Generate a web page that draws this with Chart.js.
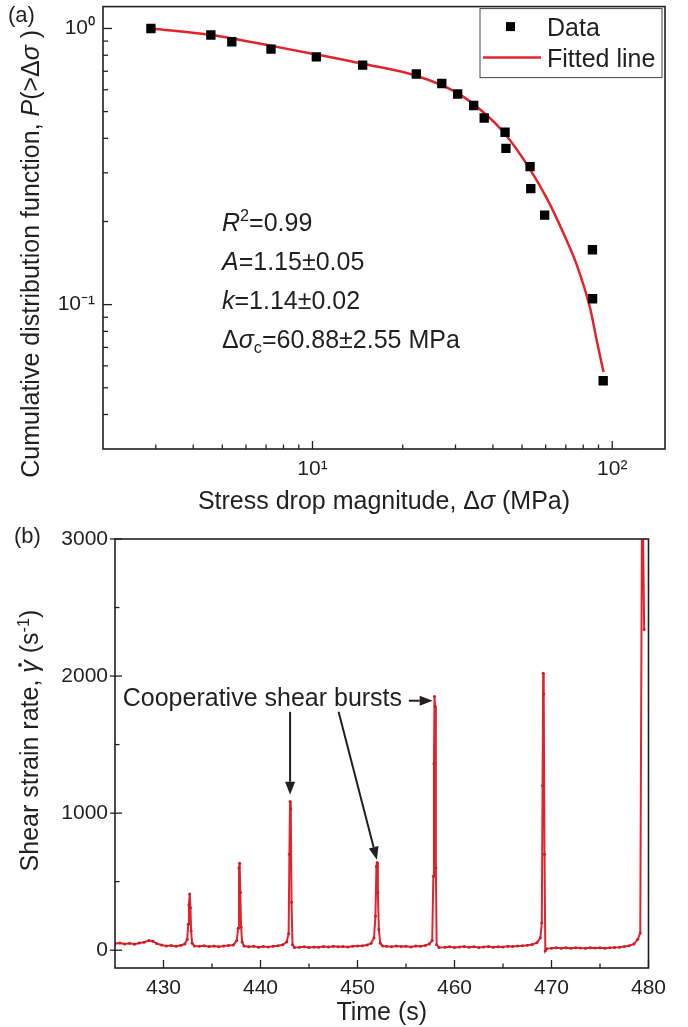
<!DOCTYPE html>
<html>
<head>
<meta charset="utf-8">
<script src="https://cdn.jsdelivr.net/npm/chart.js@4.4.1/dist/chart.umd.min.js"></script>
<style>
  body { margin: 0; background: #fff; width: 688px; height: 1027px; overflow: hidden; position: relative; }
  canvas { position: absolute; left: 0; }
  #chartA { top: 0; }
  #chartB { top: 515px; }
</style>
</head>
<body>
<canvas id="chartA" width="688" height="515"></canvas>
<canvas id="chartB" width="688" height="512"></canvas>
<script>
// (a) cumulative distribution of stress drops
const stressDrop = [2.89, 4.58, 5.38, 7.27, 10.3, 14.7, 22.2, 27.0, 30.5, 34.5, 37.4, 43.9, 44.2, 53.2, 53.5, 59.5, 85.9, 86.0, 93.3];
const cdfValues  = [1.0, 0.947, 0.895, 0.842, 0.789, 0.737, 0.684, 0.632, 0.579, 0.526, 0.474, 0.421, 0.368, 0.316, 0.263, 0.211, 0.158, 0.105, 0.053];
const fitStress  = [2.9, 4.6, 7.3, 10.3, 14.7, 22.2, 30.5, 37.4, 43.9, 53.2, 60.7, 68.5, 76.2, 84.4, 88.9, 93.5];
const fitCdf     = [1.0, 0.947, 0.865, 0.805, 0.745, 0.674, 0.583, 0.494, 0.415, 0.309, 0.241, 0.183, 0.139, 0.097, 0.0736, 0.057];

const xTicksA = [3, 4, 5, 6, 7, 8, 9, 10, 20, 30, 40, 50, 60, 70, 80, 90, 100];
const xLabelValuesA = [10, 100];
const xLabelTextsA = ['10¹', '10²'];
const yTicksA = [0.04, 0.05, 0.06, 0.07, 0.08, 0.09, 0.1, 0.2, 0.3, 0.4, 0.5, 0.6, 0.7, 0.8, 0.9, 1];
const yLabelValuesA = [0.1, 1];
const yLabelTextsA = ['10⁻¹', '10⁰'];

// (b) shear strain rate vs time
const timeS = [
  425.0, 425.5, 426.0, 426.5, 427.0, 427.5, 428.0, 428.5, 428.9, 429.3, 429.8, 430.3, 430.8, 431.3, 431.8, 432.2, 432.45,
  432.55, 432.62, 432.7, 432.78, 432.85, 432.95, 433.2,
  433.7, 434.2, 434.7, 435.2, 435.7, 436.2, 436.7, 437.2, 437.55,
  437.7, 437.78, 437.85, 437.92, 438.0, 438.1, 438.3,
  438.8, 439.3, 439.8, 440.3, 440.8, 441.3, 441.8, 442.3, 442.7, 442.9,
  442.98, 443.05, 443.12, 443.2, 443.3, 443.5,
  444.0, 444.5, 445.0, 445.5, 446.0, 446.5, 447.0, 447.5, 448.0, 448.5, 449.0, 449.5, 450.0, 450.5, 451.0, 451.4, 451.7,
  451.85, 451.95, 452.02, 452.1, 452.2, 452.35, 452.6,
  453.0, 453.5, 454.0, 454.5, 455.0, 455.5, 456.0, 456.5, 457.0, 457.4, 457.7,
  457.82, 457.88, 457.94, 458.0, 458.08, 458.16, 458.4,
  459.0, 459.5, 460.0, 460.5, 461.0, 461.5, 462.0, 462.5, 463.0, 463.5, 464.0, 464.5, 465.0, 465.5, 466.0, 466.5, 467.0, 467.5, 468.0, 468.5, 468.85,
  469.0, 469.08, 469.14, 469.2, 469.28, 469.36, 469.5,
  470.0, 470.5, 471.0, 471.5, 472.0, 472.5, 473.0, 473.5, 474.0, 474.5, 475.0, 475.5, 476.0, 476.5, 477.0, 477.5, 478.0, 478.5, 478.9, 479.15,
  479.35, 479.55
];
const strainRate = [
  48, 52, 45, 50, 44, 52, 58, 70, 66, 48, 38, 30, 34, 28, 36, 45, 80,
  190, 330, 410, 310, 140, 50, 30,
  28, 32, 26, 30, 25, 30, 34, 38, 70,
  160, 600, 635, 420, 170, 60, 30,
  25, 28, 22, 26, 24, 28, 32, 40, 60, 120,
  700, 1085, 1030, 350, 40, 20,
  22, 25, 20, 24, 22, 26, 23, 28, 25, 27, 24, 28, 30, 32, 38, 50, 90,
  250, 610, 640, 420, 150, 50, 30,
  28, 25, 30, 26, 28, 24, 30, 28, 35, 45, 70,
  540, 1360, 1850, 1780, 600, 40, 20,
  22, 25, 20, 24, 26, 22, 25, 20, 24, 26, 22, 25, 24, 28, 26, 30, 32, 36, 42, 55, 90,
  200, 1200, 2020, 1870, 700, -5, 10,
  15, 18, 14, 17, 15, 18, 16, 15, 18, 16, 17, 15, 18, 20, 22, 26, 32, 45, 80, 125,
  3600, 2340
];

const xTicksB = [430, 435, 440, 445, 450, 455, 460, 465, 470, 475, 480];
const xLabelValuesB = [430, 440, 450, 460, 470, 480];
const xLabelTextsB = ['430', '440', '450', '460', '470', '480'];
const yTicksB = [0, 500, 1000, 1500, 2000, 2500, 3000];
const yLabelValuesB = [0, 1000, 2000, 3000];
const yLabelTextsB = ['0', '1000', '2000', '3000'];

const INK = '#231f20';
const RED = '#e3232c';
const FONT = '"Liberation Sans", Arial, sans-serif';

function labelFor(v, vals, texts) {
  const i = vals.findIndex(u => Math.abs(u - v) < 1e-9);
  return i < 0 ? '' : texts[i];
}

// text with italic / superscript / subscript pieces: [text, flags]
function rich(ctx, parts, x, y, size, align) {
  const fontOf = (it, sz) => (it ? 'italic ' : '') + sz + 'px ' + FONT;
  let w = 0;
  const items = parts.map(([t, f = '']) => {
    const small = f.includes('^') || f.includes('_');
    const sz = small ? size * 0.65 : size;
    ctx.font = fontOf(f.includes('i'), sz);
    const tw = ctx.measureText(t).width;
    w += tw;
    return { t, f, sz, tw, dy: f.includes('^') ? -size * 0.38 : (f.includes('_') ? size * 0.22 : 0) };
  });
  let cx = align === 'center' ? x - w / 2 : x;
  items.forEach(it => {
    ctx.font = fontOf(it.f.includes('i'), it.sz);
    ctx.fillText(it.t, cx, y + it.dy);
    if (it.f.includes('d')) {
      ctx.beginPath();
      ctx.arc(cx + it.tw * 0.62, y - size * 0.72, size * 0.075, 0, Math.PI * 2);
      ctx.fill();
    }
    cx += it.tw;
  });
}

function arrow(ctx, x1, y1, x2, y2) {
  const ang = Math.atan2(y2 - y1, x2 - x1), hl = 13, hw = 5;
  const bx = x2 - hl * Math.cos(ang), by = y2 - hl * Math.sin(ang);
  ctx.beginPath(); ctx.moveTo(x1, y1); ctx.lineTo(bx, by); ctx.stroke();
  ctx.beginPath();
  ctx.moveTo(x2, y2);
  ctx.lineTo(bx + hw * Math.sin(ang), by - hw * Math.cos(ang));
  ctx.lineTo(bx - hw * Math.sin(ang), by + hw * Math.cos(ang));
  ctx.closePath(); ctx.fill();
}

// box around the plot and ticks pointing inside
const frameTicks = {
  id: 'frameTicks',
  afterDatasetsDraw(chart, args, opts) {
    const ctx = chart.ctx, a = chart.chartArea;
    ctx.save();
    ctx.strokeStyle = INK;
    ctx.lineWidth = 1.6;
    ctx.strokeRect(a.left, a.top, a.right - a.left, a.bottom - a.top);
    ctx.lineWidth = 1.3;
    ['x', 'y'].forEach(id => {
      const sc = chart.scales[id], o = opts[id];
      sc.ticks.forEach(t => {
        const major = !!t.label;
        const len = major ? o.major : o.minor, out = major ? (o.out || 0) : 0;
        const p = sc.getPixelForValue(t.value);
        ctx.beginPath();
        if (id === 'x') { ctx.moveTo(p, a.bottom + out); ctx.lineTo(p, a.bottom - len); }
        else { ctx.moveTo(a.left - out, p); ctx.lineTo(a.left + len, p); }
        ctx.stroke();
      });
    });
    ctx.restore();
  }
};

const decorA = {
  id: 'decorA',
  afterDraw(chart) {
    const { ctx, chartArea: a } = chart;
    ctx.save();
    ctx.fillStyle = INK;
    ctx.textBaseline = 'alphabetic';
    rich(ctx, [['(a)']], 8, 22, 22);
    rich(ctx, [['Stress drop magnitude, Δ'], ['σ', 'i'], [' (MPa)']], (a.left + a.right) / 2, 509, 25, 'center');
    ctx.save();
    ctx.translate(39, (a.top + a.bottom) / 2 + 26);
    ctx.rotate(-Math.PI / 2);
    rich(ctx, [['Cumulative distribution function, '], ['P', 'i'], ['(>Δ'], ['σ', 'i'], [' )']], 0, 0, 25, 'center');
    ctx.restore();

    // fit parameters
    const params = [
      [['R', 'i'], ['2', '^'], ['=0.99']],
      [['A', 'i'], ['=1.15±0.05']],
      [['k', 'i'], ['=1.14±0.02']],
      [['Δ'], ['σ', 'i'], ['c', '_'], ['=60.88±2.55 MPa']]
    ];
    params.forEach((p, i) => rich(ctx, p, a.left + 119, a.top + 224 + 39 * i, 25));

    // legend
    const bw = 182, bh = 69, bx = a.right - 3 - bw, by = a.top + 2;
    ctx.strokeStyle = '#444';
    ctx.lineWidth = 1;
    ctx.strokeRect(bx, by, bw, bh);
    chart.data.datasets.forEach((ds, i) => {
      const cy = by + 18 + 31 * i;
      if (ds.pointStyle === 'rect') {
        ctx.fillStyle = ds.backgroundColor;
        ctx.fillRect(bx + 26, cy - 4.5, 9, 9);
      } else {
        ctx.strokeStyle = ds.borderColor;
        ctx.lineWidth = ds.borderWidth;
        ctx.beginPath(); ctx.moveTo(bx + 3, cy); ctx.lineTo(bx + 61, cy); ctx.stroke();
      }
      ctx.fillStyle = INK;
      ctx.font = '25px ' + FONT;
      ctx.fillText(ds.label, bx + 67, cy + 9);
    });
    ctx.restore();
  }
};

const decorB = {
  id: 'decorB',
  afterDraw(chart) {
    const { ctx, chartArea: a, scales: { x, y } } = chart;
    ctx.save();
    ctx.fillStyle = INK;
    ctx.strokeStyle = INK;
    ctx.textBaseline = 'alphabetic';
    rich(ctx, [['(b)']], 14, 28, 22);
    rich(ctx, [['Time (s)']], (a.left + a.right) / 2, 505, 25, 'center');
    ctx.save();
    ctx.translate(38, (a.top + a.bottom) / 2 - 13);
    ctx.rotate(-Math.PI / 2);
    rich(ctx, [['Shear strain rate, '], ['γ', 'id'], [' (s'], ['-1', '^'], [')']], 0, 0, 25, 'center');
    ctx.restore();

    rich(ctx, [['Cooperative shear bursts']], x.getPixelForValue(425.8), y.getPixelForValue(1783), 25);
    ctx.lineWidth = 2;
    arrow(ctx, x.getPixelForValue(455.3), y.getPixelForValue(1820), x.getPixelForValue(457.75), y.getPixelForValue(1820));
    arrow(ctx, x.getPixelForValue(443.05), y.getPixelForValue(1739), x.getPixelForValue(443.05), y.getPixelForValue(1134));
    arrow(ctx, x.getPixelForValue(448.05), y.getPixelForValue(1739), x.getPixelForValue(452.0), y.getPixelForValue(660));
    ctx.restore();
  }
};

const tickFont = { family: FONT, size: 21 };

new Chart(document.getElementById('chartA'), {
  type: 'scatter',
  data: {
    datasets: [
      {
        label: 'Data',
        data: stressDrop.map((v, i) => ({ x: v, y: cdfValues[i] })),
        pointStyle: 'rect',
        pointRadius: 6.6,
        backgroundColor: '#000',
        borderColor: '#000',
        borderWidth: 0,
        order: 1
      },
      {
        label: 'Fitted line',
        type: 'line',
        data: fitStress.map((v, i) => ({ x: v, y: fitCdf[i] })),
        borderColor: RED,
        borderWidth: 2.5,
        pointRadius: 0,
        cubicInterpolationMode: 'monotone',
        fill: false,
        order: 2
      }
    ]
  },
  options: {
    responsive: false,
    animation: false,
    layout: { padding: { left: 0, top: 3, right: 23, bottom: 0 } },
    plugins: {
      legend: { display: false },
      tooltip: { enabled: false },
      frameTicks: { x: { major: 8, minor: 4.5 }, y: { major: 9, minor: 5 } }
    },
    scales: {
      x: {
        type: 'logarithmic', min: 2, max: 150,
        afterBuildTicks: s => { s.ticks = xTicksA.map(v => ({ value: v })); },
        afterFit: s => { s.height = 66; s.paddingLeft = 0; s.paddingRight = 0; },
        grid: { display: false, drawTicks: false },
        border: { display: false },
        ticks: { autoSkip: false, maxRotation: 0, padding: 8, color: INK, font: tickFont,
          callback: v => labelFor(v, xLabelValuesA, xLabelTextsA) }
      },
      y: {
        type: 'logarithmic', min: 0.03, max: 1.2,
        afterBuildTicks: s => { s.ticks = yTicksA.map(v => ({ value: v })); },
        afterFit: s => { s.width = 103; s.paddingTop = 0; s.paddingBottom = 0; },
        grid: { display: false, drawTicks: false },
        border: { display: false },
        ticks: { autoSkip: false, padding: 8, color: INK, font: tickFont,
          callback: v => labelFor(v, yLabelValuesA, yLabelTextsA) }
      }
    }
  },
  plugins: [frameTicks, decorA]
});

new Chart(document.getElementById('chartB'), {
  type: 'line',
  data: {
    datasets: [{
      label: 'Shear strain rate',
      data: timeS.map((t, i) => ({ x: t, y: strainRate[i] })),
      borderColor: RED,
      borderWidth: 2,
      pointRadius: 1.5,
      pointBackgroundColor: '#c81e28',
      pointBorderWidth: 0,
      tension: 0
    }]
  },
  options: {
    responsive: false,
    animation: false,
    layout: { padding: { left: 0, top: 24, right: 39.5, bottom: 0 } },
    plugins: {
      legend: { display: false },
      tooltip: { enabled: false },
      frameTicks: { x: { major: 8, minor: 4.5 }, y: { major: 7, minor: 4.5, out: 5 } }
    },
    scales: {
      x: {
        type: 'linear', min: 425, max: 480,
        afterBuildTicks: s => { s.ticks = xTicksB.map(v => ({ value: v })); },
        afterFit: s => { s.height = 59; s.paddingLeft = 0; s.paddingRight = 0; },
        grid: { display: false, drawTicks: false },
        border: { display: false },
        ticks: { autoSkip: false, maxRotation: 0, padding: 8, color: INK, font: tickFont,
          callback: v => labelFor(v, xLabelValuesB, xLabelTextsB) }
      },
      y: {
        type: 'linear', min: -130, max: 3000,
        afterBuildTicks: s => { s.ticks = yTicksB.map(v => ({ value: v })); },
        afterFit: s => { s.width = 115; s.paddingTop = 0; s.paddingBottom = 0; },
        grid: { display: false, drawTicks: false },
        border: { display: false },
        ticks: { autoSkip: false, padding: 7, color: INK, font: tickFont,
          callback: v => labelFor(v, yLabelValuesB, yLabelTextsB) }
      }
    }
  },
  plugins: [frameTicks, decorB]
});
</script>
</body>
</html>
